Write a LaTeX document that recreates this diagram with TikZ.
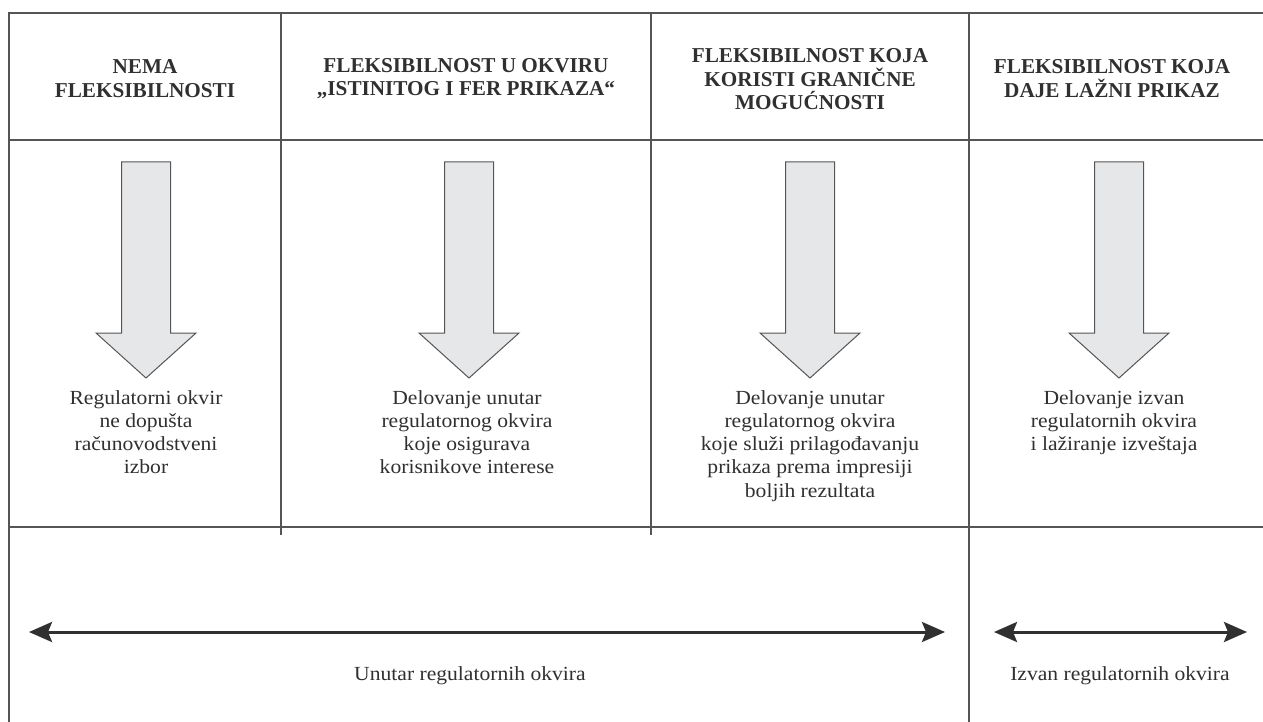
\documentclass[tikz,border=0pt]{standalone}
\usepackage{fontspec}
\setmainfont{Liberation Serif}
\newfontfamily\wideserif[FakeStretch=1.08]{Liberation Serif}
\usetikzlibrary{arrows.meta}
\definecolor{ink}{HTML}{303030}
\definecolor{rulec}{HTML}{555555}
\definecolor{arrfill}{HTML}{E6E7E8}
\begin{document}
\begin{tikzpicture}[x=1pt,y=-1pt,
  frame/.style={draw=rulec, line width=2.8pt},
  gridline/.style={draw=rulec, line width=1.3pt},
  head/.style={font=\fontsize{21.2}{23.4}\selectfont\bfseries, text=ink, align=center, inner sep=0pt},
  body/.style={font=\wideserif\fontsize{20}{23.3}\selectfont, text=ink, align=center, inner sep=0pt, anchor=north},
  foot/.style={font=\wideserif\fontsize{20}{23}\selectfont, text=ink, inner sep=0pt, anchor=base},
  downarrow/.style={fill=arrfill, draw=rulec, line width=1pt, line join=miter},
  spanarrow/.style={draw=ink, line width=3pt, {Stealth[length=23pt,width=20pt,inset=4pt]}-{Stealth[length=23pt,width=20pt,inset=4pt]}},
]
\useasboundingbox (0,0) rectangle (1263,722);
% grid
\draw[gridline] (9,140) -- (1263,140);
\draw[gridline] (9,527) -- (1263,527);
\draw[gridline] (281,13) -- (281,535);
\draw[gridline] (651,13) -- (651,535);
\draw[gridline] (969,13) -- (969,722);
% frame
\draw[frame] (7.6,13) -- (1263,13);
\draw[frame] (9,11.6) -- (9,722);
% headers
\node[head] (h1) at (145,78.5) {NEMA\\FLEKSIBILNOSTI};
\node[head] (h2) at (466,78.5) {FLEKSIBILNOST U OKVIRU\\„ISTINITOG I FER PRIKAZA“};
\node[head] (h3) at (810,79.3) {FLEKSIBILNOST KOJA\\KORISTI GRANIČNE\\MOGUĆNOSTI};
\node[head] (h4) at (1112,78.5) {FLEKSIBILNOST KOJA\\DAJE LAŽNI PRIKAZ};
% down arrows
\foreach \c in {146,469,810,1119} {
  \draw[downarrow] (\c-24.5,162) -- (\c+24.5,162) -- (\c+24.5,333) -- (\c+50,333)
    -- (\c,378) -- (\c-50,333) -- (\c-24.5,333) -- cycle;
}
% body texts
\node[body] (b1) at (146,390) {Regulatorni okvir\\ne dopušta\\računovodstveni\\izbor};
\node[body] (b2) at (467,390) {Delovanje unutar\\regulatornog okvira\\koje osigurava\\korisnikove interese};
\node[body] (b3) at (810,390) {Delovanje unutar\\regulatornog okvira\\koje služi prilagođavanju\\prikaza prema impresiji\\boljih rezultata};
\node[body] (b4) at (1114,390) {Delovanje izvan\\regulatornih okvira\\i lažiranje izveštaja};
% bottom spans
\coordinate (l1) at (29,632);
\coordinate (r1) at (945,632);
\coordinate (l2) at (994,632);
\coordinate (r2) at (1247,632);
\draw[spanarrow] (l1) -- (r1);
\draw[spanarrow] (l2) -- (r2);
\node[foot] (f1) at (470,680) {Unutar regulatornih okvira};
\node[foot] (f2) at (1120,680) {Izvan regulatornih okvira};
\end{tikzpicture}
\end{document}
